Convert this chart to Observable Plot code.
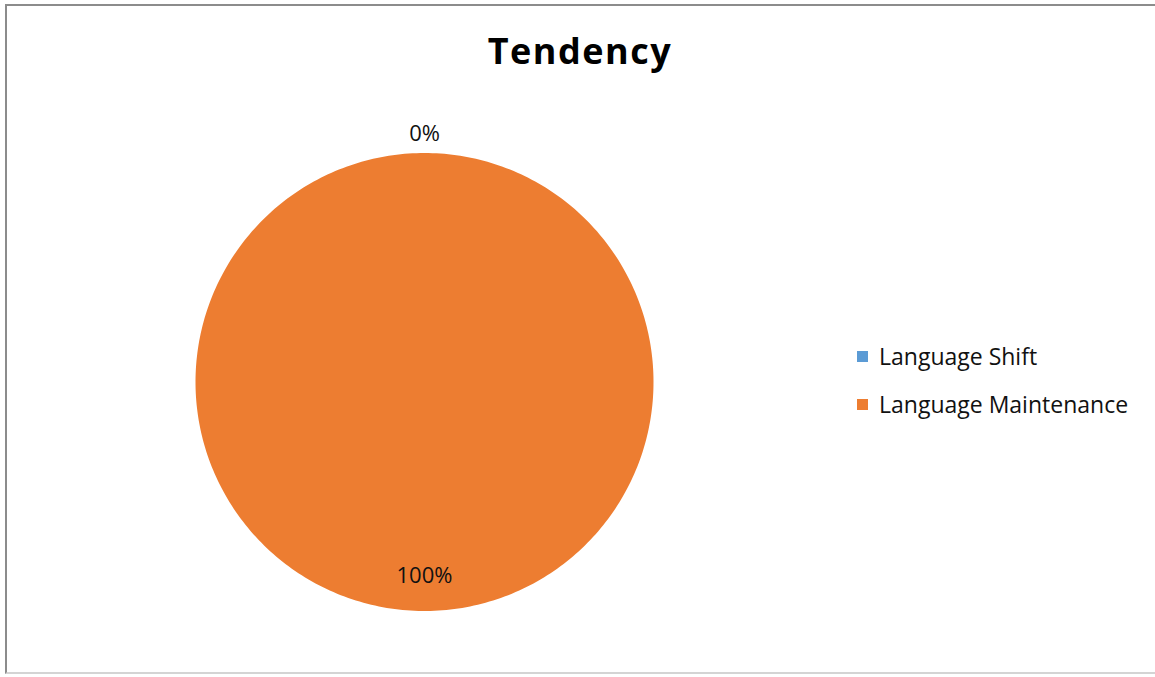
<!DOCTYPE html>
<html><head><meta charset="utf-8">
<script src="https://cdn.jsdelivr.net/npm/d3@7"></script>
<script src="https://cdn.jsdelivr.net/npm/@observablehq/plot@0.6"></script>
<style>
body{margin:0;background:#fff;font-family:"Open Sans",sans-serif;}
#wrap{position:relative;width:1155px;height:677px;overflow:hidden;background:#fff;}
#frame{position:absolute;left:5px;top:4px;width:1170px;height:670px;border-left:2px solid #8c8c8c;border-top:2px solid #8c8c8c;border-bottom:2px solid #d4d4d4;box-sizing:border-box;}
#title{position:absolute;left:430px;width:300px;top:31px;text-align:center;font-weight:bold;font-size:36px;line-height:40px;color:#000;letter-spacing:1.5px;}
#chart{position:absolute;left:0;top:0;}
#legend{position:absolute;left:857px;top:343px;font-size:23px;color:#111;}
.item{display:flex;align-items:center;height:26px;margin-bottom:22px;}
.sw{width:11px;height:11px;margin-right:11px;}
</style>
</head><body>
<div id="wrap">
  <div id="frame"></div>
  <div id="chart"></div>
  <div id="title"></div>
  <div id="legend"></div>
</div>
<script>
const titleText = "Tendency";
const categories = ["Language Shift", "Language Maintenance"];
const values = [0, 100];
const percentLabels = ["0%", "100%"];
const colors = ["#5B9BD5", "#ED7D31"];

document.getElementById("title").textContent = titleText;

const pie = d3.pie().sort(null).value(d => d.value);
const slices = pie(categories.map((name, i) => ({name, value: values[i], label: percentLabels[i]})));

// arc outlines for each slice (unit circle, angle clockwise from top)
const arcPts = [];
for (const s of slices) {
  const n = Math.max(2, Math.ceil((s.endAngle - s.startAngle) / (Math.PI / 180)));
  arcPts.push({name: s.data.name, x: 0, y: 0});
  for (let k = 0; k <= n; k++) {
    const a = s.startAngle + (s.endAngle - s.startAngle) * k / n;
    arcPts.push({name: s.data.name, x: Math.sin(a), y: Math.cos(a)});
  }
  arcPts.push({name: s.data.name, x: 0, y: 0});
}

// label positions: outside for tiny slices, inside otherwise
const labels = slices.map(s => {
  const a = (s.startAngle + s.endAngle) / 2;
  const r = s.data.value === 0 ? 1.085 : 0.845;
  return {label: s.data.label, x: Math.sin(a) * r, y: Math.cos(a) * r};
});

const cx = 424, cy = 381.5, R = 229;
const W = 1155, H = 677;
const chart = Plot.plot({
  width: W, height: H,
  marginLeft: cx - R, marginRight: W - (cx + R),
  marginTop: cy - R, marginBottom: H - (cy + R),
  x: {domain: [-1, 1], axis: null},
  y: {domain: [-1, 1], axis: null},
  color: {domain: categories, range: colors},
  style: {background: "transparent", overflow: "visible"},
  marks: [
    Plot.line(arcPts, {x: "x", y: "y", z: "name", fill: "name", stroke: "none", curve: "linear"}),
    Plot.text(labels, {x: "x", y: "y", text: "label", fontSize: 22, fill: "#111", fontFamily: "Open Sans"})
  ]
});
document.getElementById("chart").appendChild(chart);

const legend = document.getElementById("legend");
categories.forEach((c, i) => {
  const it = document.createElement("div");
  it.className = "item";
  const sw = document.createElement("div");
  sw.className = "sw";
  sw.style.background = colors[i];
  const t = document.createElement("span");
  t.textContent = c;
  it.appendChild(sw); it.appendChild(t);
  legend.appendChild(it);
});
</script>
</body></html>
